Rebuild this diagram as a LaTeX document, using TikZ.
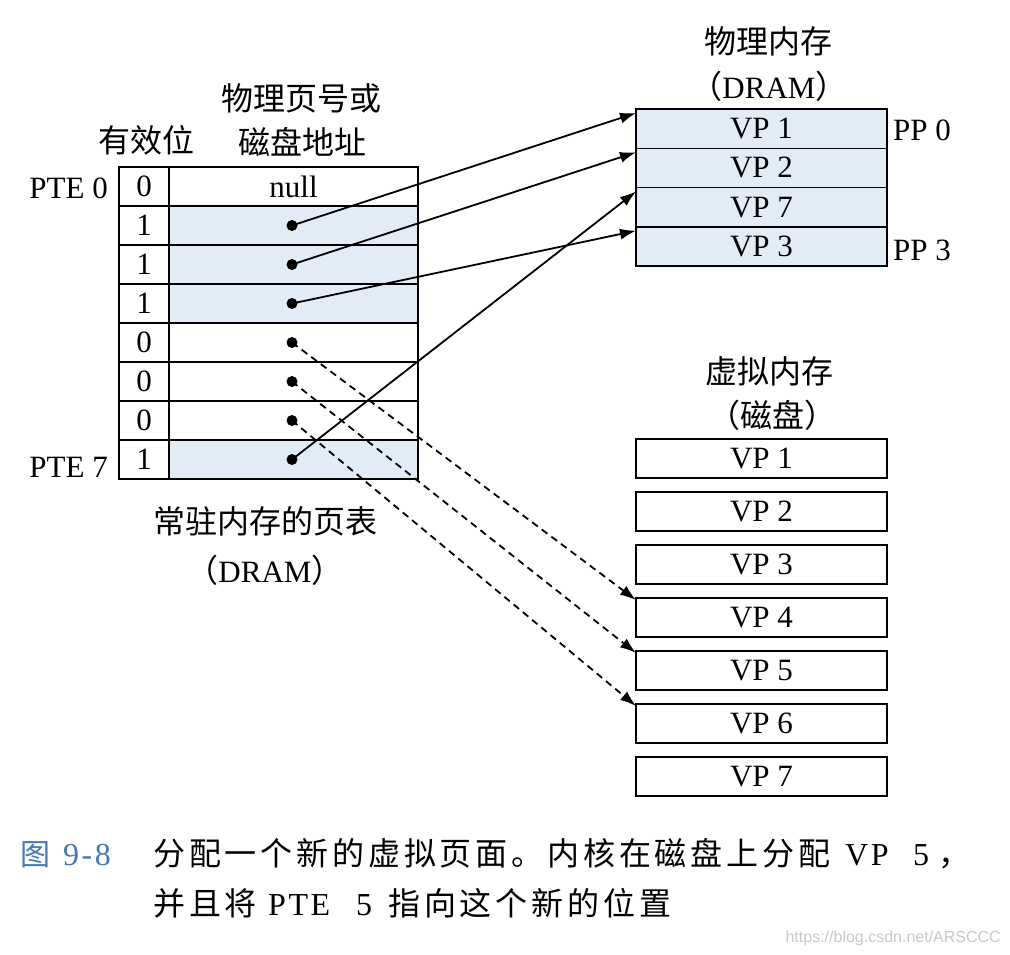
\documentclass[tikz,border=0pt]{standalone}
\usepackage{fontspec}
\newfontfamily\tms{Liberation Serif}
\newfontfamily\tmscap[LetterSpace=8]{Liberation Serif}
\newfontfamily\cjk{Noto Sans CJK SC}
\newfontfamily\cjkcap[LetterSpace=12]{Noto Sans CJK SC}
\newfontfamily\wmfont{Liberation Sans}
\usetikzlibrary{arrows.meta}
\definecolor{cellblue}{RGB}{226,236,246}
\definecolor{capblue}{RGB}{70,120,180}
\definecolor{wmgray}{RGB}{200,200,200}
\tikzset{
  box/.style={draw, line width=1.5pt, inner sep=0pt, outer sep=0pt, anchor=north west,
    font=\tms\fontsize{31}{36}\selectfont},
  cellv/.style={box, minimum width=50pt, minimum height=39pt},
  cella/.style={box, minimum width=249pt, minimum height=39pt},
  memcell/.style={box, fill=cellblue, minimum width=251pt, minimum height=39.25pt},
  diskcell/.style={box, minimum width=251pt, minimum height=39pt},
  dot/.style={circle, fill=black, inner sep=0pt, minimum size=11pt},
  lbl/.style={inner sep=0pt, anchor=base, font=\cjk\fontsize{32}{38}\selectfont},
  lat/.style={inner sep=0pt, font=\tms\fontsize{31}{36}\selectfont},
  ptr/.style={line width=1.8pt, -{Latex[length=16pt,width=11pt]}},
  dptr/.style={ptr, dash pattern=on 7pt off 5pt},
  captext/.style={inner sep=0pt, anchor=base west, font=\cjkcap\fontsize{32}{38}\selectfont},
  caplat/.style={inner sep=0pt, anchor=base west, font=\tmscap\fontsize{32}{38}\selectfont},
}
\begin{document}
\begin{tikzpicture}[x=1pt,y=-1pt]
\useasboundingbox[fill=white] (0,0) rectangle (1010,954);

% page table
\node[cellv] (v0) at (119,167) {0};
\node[cellv] (v1) at (119,206) {1};
\node[cellv] (v2) at (119,245) {1};
\node[cellv] (v3) at (119,284) {1};
\node[cellv] (v4) at (119,323) {0};
\node[cellv] (v5) at (119,362) {0};
\node[cellv] (v6) at (119,401) {0};
\node[cellv] (v7) at (119,440) {1};
\node[cella] (a0) at (169,167) {null};
\node[cella, fill=cellblue] (a1) at (169,206) {};
\node[cella, fill=cellblue] (a2) at (169,245) {};
\node[cella, fill=cellblue] (a3) at (169,284) {};
\node[cella] (a4) at (169,323) {};
\node[cella] (a5) at (169,362) {};
\node[cella] (a6) at (169,401) {};
\node[cella, fill=cellblue] (a7) at (169,440) {};

\node[lat, anchor=base east] (pte0) at (108,198) {PTE 0};
\node[lat, anchor=base east] (pte7) at (108,477) {PTE 7};
\node[lbl] (valid) at (146,152) {有效位};
\node[lbl] (addr1) at (301,110) {物理页号或};
\node[lbl] (addr2) at (302,154) {磁盘地址};
\node[lbl] (pt1) at (265,533) {常驻内存的页表};
\node[lbl] (pt2) at (265,582) {（{\tms\fontsize{31}{36}\selectfont DRAM}）};

% physical memory
\node[memcell] (m1) at (636,109) {VP 1};
\node[memcell] (m2) at (636,148.25) {VP 2};
\node[memcell] (m3) at (636,187.5) {VP 7};
\node[memcell] (m4) at (636,226.75) {VP 3};
\node[lbl] (pm1) at (768,53) {物理内存};
\node[lbl] (pm2) at (769,98) {（{\tms\fontsize{31}{36}\selectfont DRAM}）};
\node[lat, anchor=base west] (pp0) at (893,140) {PP 0};
\node[lat, anchor=base west] (pp3) at (893,260) {PP 3};

% disk
\node[diskcell] (k1) at (636,439) {VP 1};
\node[diskcell] (k2) at (636,492) {VP 2};
\node[diskcell] (k3) at (636,545) {VP 3};
\node[diskcell] (k4) at (636,598) {VP 4};
\node[diskcell] (k5) at (636,651) {VP 5};
\node[diskcell] (k6) at (636,704) {VP 6};
\node[diskcell] (k7) at (636,757) {VP 7};
\node[lbl] (vm1) at (769,383) {虚拟内存};
\node[lbl] (vm2) at (772,427) {（磁盘）};

% dots
\node[dot] (d1) at (292,225.5) {};
\node[dot] (d2) at (292,264.5) {};
\node[dot] (d3) at (292,303.5) {};
\node[dot] (d4) at (292,342.5) {};
\node[dot] (d5) at (292,381.5) {};
\node[dot] (d6) at (292,420.5) {};
\node[dot] (d7) at (292,459.5) {};

% pointers
\draw[ptr] (d1.center) -- ([yshift=-4pt]m1.north west);
\draw[ptr] (d2.center) -- ([yshift=-4pt]m2.north west);
\draw[ptr] (d3.center) -- ([yshift=-4pt]m4.north west);
\draw[ptr] (d7.center) -- ([yshift=-4pt]m3.north west);
\draw[dptr] (d4.center) -- ([yshift=-2pt]k4.north west);
\draw[dptr] (d5.center) -- ([yshift=-2pt]k5.north west);
\draw[dptr] (d6.center) -- ([yshift=-2pt]k6.north west);

% caption
\node[inner sep=0pt, anchor=base west, text=capblue, font=\cjk\fontsize{30}{36}\selectfont] (fig) at (20,865) {图};
\node[caplat, text=capblue] (fignum) at (63,865) {9-8};
\node[captext] (c1a) at (153,865) {分配一个新的虚拟页面。内核在磁盘上分配};
\node[caplat] (c1b) at (845,865) {VP};
\node[caplat] (c1c) at (913,865) {5};
\node[captext] (c1d) at (938,865) {，};
\node[captext] (c2a) at (153,915) {并且将};
\node[caplat] (c2b) at (268,915) {PTE};
\node[caplat] (c2c) at (356,915) {5};
\node[captext] (c2d) at (388,915) {指向这个新的位置};
\node[inner sep=0pt, anchor=base east, text=wmgray, font=\wmfont\fontsize{16}{18}\selectfont] (wm) at (1001,942) {https://blog.csdn.net/ARSCCC};
\end{tikzpicture}
\end{document}
